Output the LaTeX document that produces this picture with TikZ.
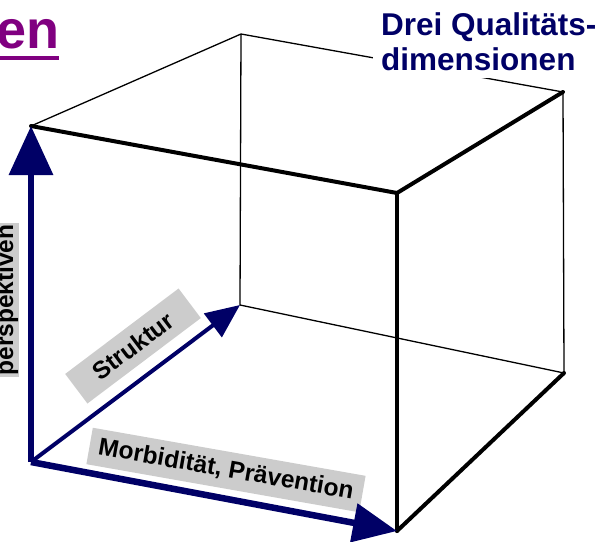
\documentclass[tikz,border=0pt]{standalone}
\usepackage{fontspec}
\setmainfont{Liberation Sans}
\usetikzlibrary{arrows.meta}
\definecolor{navy}{RGB}{0,0,102}
\definecolor{boxgray}{RGB}{204,204,204}
\definecolor{titlepurple}{RGB}{128,0,128}
\begin{document}
\begin{tikzpicture}[x=1pt,y=-1pt,
  thinedge/.style={line width=1.3pt, black},
  thickedge/.style={line width=4pt, black, line cap=round, line join=round},
  labelbox/.style={fill=boxgray, inner sep=0pt, font=\fontsize{24.5}{28}\selectfont\bfseries},
  titletext/.style={inner sep=0pt, text=navy, font=\fontsize{31.5}{35}\selectfont\bfseries},
  axisup/.style={navy, line width=6.5pt, -{Triangle[length=49pt,width=43pt]}},
  axisright/.style={navy, line width=6.5pt, -{Triangle[length=44pt,width=38pt]}},
  axisback/.style={navy, line width=4pt, -{Triangle[length=34pt,width=29pt]}}
]
\clip (0,0) rectangle (605,541);
% cube vertices
\coordinate (ftl) at (31,126);
\coordinate (ftr) at (397,193);
\coordinate (fbr) at (397,531);
\coordinate (fbl) at (31,462);
\coordinate (btl) at (241,34);
\coordinate (btr) at (563,92);
\coordinate (bbr) at (564,373);
\coordinate (bbl) at (240,305);
% thin (hidden/back) edges
\draw[thinedge] (ftl) -- (btl);
\draw[thinedge] (btl) -- (btr);
\draw[thinedge] (btl) -- (bbl);
\draw[thinedge] (btr) -- (bbr);
\draw[thinedge] (bbl) -- (bbr);
% thick edges
\draw[thickedge] (ftl) -- (ftr);
\draw[thickedge] (ftr) -- (fbr);
\draw[thickedge] (ftr) -- (btr);
\draw[thickedge] (fbr) -- (bbr);
% title
\fill[white] (373,0) rectangle (605,78);
\node[titletext, anchor=base west] (title1) at (381,35) {Drei Qualitäts-};
\node[titletext, anchor=base west] (title2) at (381,70) {dimensionen};
% clipped heading
\node[inner sep=0pt, anchor=base east, text=titlepurple, font=\fontsize{54}{60}\selectfont\bfseries] (head) at (60,48) {en};
\draw[titlepurple, line width=3.5pt] (0,58) -- (59,58);
% labels
\fill[boxgray] (-30,223) rectangle (19,377);
\node[inner sep=0pt, rotate=90, anchor=base, font=\fontsize{24.5}{28}\selectfont\bfseries] (persp) at (13,300) {perspektiven};
\node[labelbox, rotate=37, minimum width=142pt, minimum height=37pt] (struktur) at (133,346) {Struktur};
\node[labelbox, rotate=-10, minimum width=277pt, minimum height=37pt] (morb) at (226,470) {Morbidität, Prävention};
% axes
\draw[axisback] (fbl) -- (bbl);
\draw[axisright] (fbl) -- (fbr);
\draw[axisup] (fbl) -- (ftl);
\end{tikzpicture}
\end{document}
